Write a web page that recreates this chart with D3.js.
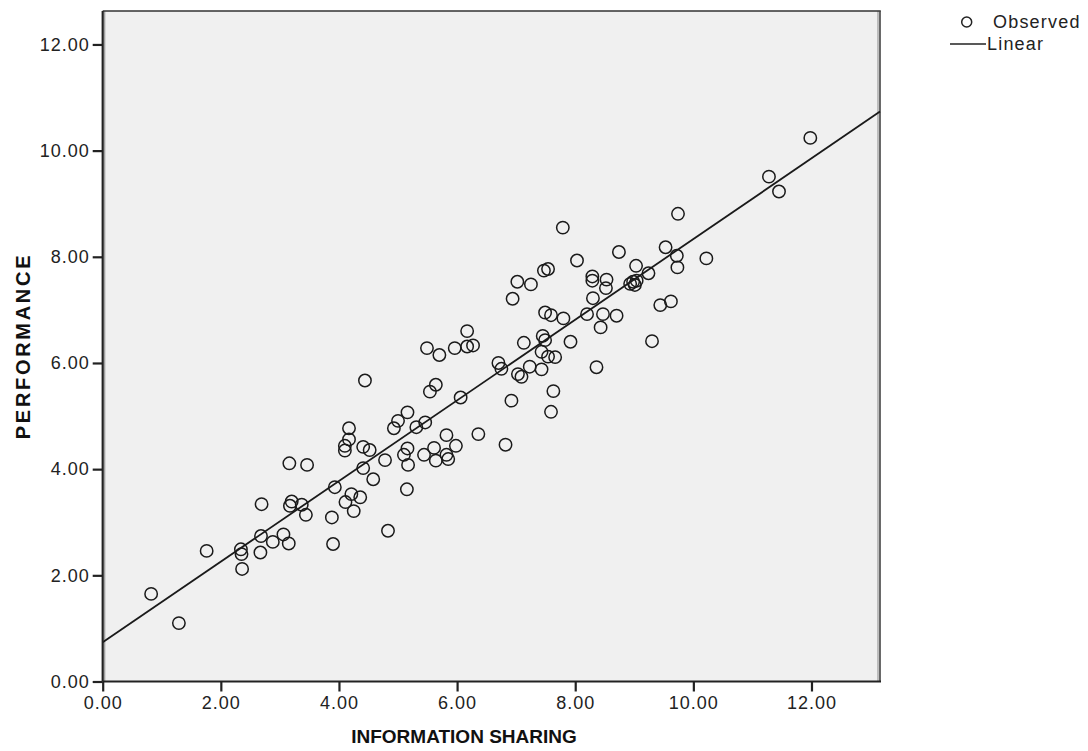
<!DOCTYPE html>
<html><head><meta charset="utf-8">
<script src="https://cdn.jsdelivr.net/npm/d3@7"></script>
<style>
html,body{margin:0;padding:0;background:#fff;}
svg{display:block;font-family:"Liberation Sans",Arial,sans-serif;}
</style></head>
<body>
<svg id="chart" width="1088" height="751"></svg>
<script>
// INFORMATION SHARING (x) values
const infoSharing = [
 0.82,1.29,1.76,2.34,2.35,2.36,2.68,2.67,2.88,3.06,3.15,3.90,4.83,2.69,3.20,3.17,3.37,3.44,3.88,3.93,
 4.21,4.36,4.11,4.25,3.16,3.46,4.41,4.58,4.78,4.17,4.17,4.10,4.10,4.41,4.52,4.44,5.16,5.00,4.93,5.31,
 5.46,5.16,5.10,5.17,5.15,5.44,5.61,5.64,5.82,5.82,5.85,5.98,6.36,6.82,5.49,5.70,5.96,6.17,6.27,6.17,
 5.64,5.54,6.06,6.70,6.75,6.92,7.59,7.63,7.03,7.09,7.23,7.43,7.43,7.54,7.66,7.13,7.45,7.49,7.92,8.36,
 9.30,8.43,8.20,8.47,8.70,7.49,7.59,7.80,9.44,9.62,6.94,8.30,7.02,7.25,7.47,7.54,7.79,8.03,8.29,8.29,
 8.53,8.52,8.74,9.03,9.24,8.93,8.98,9.01,9.04,9.53,9.72,9.73,9.74,10.22,11.28,11.45,11.98
];
// PERFORMANCE (y) values
const performance = [
 1.65,1.10,2.46,2.49,2.40,2.12,2.74,2.43,2.63,2.77,2.60,2.59,2.84,3.34,3.39,3.31,3.33,3.14,3.09,3.66,
 3.53,3.47,3.38,3.21,4.11,4.08,4.02,3.81,4.17,4.77,4.56,4.44,4.35,4.42,4.36,5.67,5.07,4.91,4.77,4.79,
 4.88,4.39,4.27,4.08,3.62,4.27,4.40,4.16,4.64,4.27,4.19,4.44,4.66,4.46,6.28,6.15,6.28,6.31,6.33,6.60,
 5.59,5.46,5.35,6.00,5.89,5.29,5.08,5.47,5.79,5.74,5.93,5.88,6.21,6.12,6.11,6.38,6.51,6.43,6.40,5.92,
 6.41,6.67,6.92,6.92,6.89,6.95,6.90,6.84,7.09,7.16,7.21,7.22,7.53,7.48,7.74,7.77,8.55,7.93,7.63,7.55,
 7.57,7.41,8.09,7.83,7.69,7.49,7.53,7.47,7.55,8.18,8.02,7.80,8.81,7.97,9.51,9.23,10.24
];
const xTicks = [0,2,4,6,8,10,12];
const yTicks = [0,2,4,6,8,10,12];
const xDomain = [0, 13.16];
const yDomain = [0, 12.63];
const xTitle = "INFORMATION SHARING";
const yTitle = "PERFORMANCE";
const legendLabels = ["Observed","Linear"];

const svg = d3.select("#chart");
const L = 102.7, R = 880, T = 11, B = 681.5;
const x = d3.scaleLinear().domain(xDomain).range([L, R]);
const y = d3.scaleLinear().domain(yDomain).range([B, T]);

// plot background
svg.append("rect").attr("x", L).attr("y", T).attr("width", R - L).attr("height", B - T)
  .attr("fill", "#f0f0f0");
// inner shading lines (3D frame look)
svg.append("line").attr("x1", L + 2).attr("x2", L + 2).attr("y1", T).attr("y2", B)
  .attr("stroke", "#9a9a9a").attr("stroke-width", 1.2);
svg.append("line").attr("x1", R - 2).attr("x2", R - 2).attr("y1", T).attr("y2", B)
  .attr("stroke", "#9a9a9a").attr("stroke-width", 1.2);
// frame
svg.append("line").attr("x1", L).attr("x2", R + 0.8).attr("y1", T).attr("y2", T)
  .attr("stroke", "#333").attr("stroke-width", 1.6);
svg.append("line").attr("x1", R).attr("x2", R).attr("y1", T).attr("y2", B)
  .attr("stroke", "#444").attr("stroke-width", 1.6);

// regression line computed from the data
const n = infoSharing.length;
const mx = d3.mean(infoSharing), my = d3.mean(performance);
let sxy = 0, sxx = 0;
for (let i = 0; i < n; i++) { sxy += (infoSharing[i]-mx)*(performance[i]-my); sxx += (infoSharing[i]-mx)**2; }
const slope = sxy / sxx, intercept = my - slope * mx;

// points
const pts = infoSharing.map((v, i) => ({x: v, y: performance[i]}));
svg.append("g").selectAll("circle").data(pts).join("circle")
  .attr("cx", d => x(d.x)).attr("cy", d => y(d.y)).attr("r", 6.2)
  .attr("fill", "none").attr("stroke", "#1a1a1a").attr("stroke-width", 1.5);

svg.append("line")
  .attr("x1", x(xDomain[0])).attr("y1", y(intercept + slope * xDomain[0]))
  .attr("x2", x(xDomain[1])).attr("y2", y(intercept + slope * xDomain[1]))
  .attr("stroke", "#1a1a1a").attr("stroke-width", 1.8);

// axes
const fmt = d3.format(".2f");
const xAxis = svg.append("g").attr("transform", `translate(0,${B})`)
  .call(d3.axisBottom(x).tickValues(xTicks).tickFormat(fmt).tickSize(10).tickSizeOuter(0));
const yAxis = svg.append("g").attr("transform", `translate(${L},0)`)
  .call(d3.axisLeft(y).tickValues(yTicks).tickFormat(fmt).tickSize(10).tickSizeOuter(0));
[xAxis, yAxis].forEach(a => {
  a.select(".domain").attr("stroke", "#222").attr("stroke-width", 2.2);
  a.selectAll(".tick line").attr("stroke", "#222").attr("stroke-width", 2.2);
  a.selectAll(".tick text").attr("fill", "#222").attr("font-size", 18)
    .attr("letter-spacing", 1).attr("font-family", "Liberation Sans, Arial, sans-serif");
});
xAxis.select(".domain").attr("d", `M${L},0H${R + 1}`);
yAxis.select(".domain").attr("d", `M0,${B}V${T}`);
xAxis.selectAll(".tick text").attr("dy", "0.71em").attr("y", 15);
yAxis.selectAll(".tick text").attr("x", -13);

// axis titles
svg.append("text").attr("x", 464).attr("y", 743)
  .attr("text-anchor", "middle").attr("font-weight", "bold").attr("font-size", 19)
  .attr("fill", "#111").text(xTitle);
svg.append("text").attr("transform", `translate(30,346) rotate(-90)`)
  .attr("text-anchor", "middle").attr("font-weight", "bold").attr("font-size", 20)
  .attr("letter-spacing", 2.7).attr("fill", "#111").text(yTitle);

// legend
const lg = svg.append("g");
lg.append("circle").attr("cx", 966.7).attr("cy", 22).attr("r", 5)
  .attr("fill", "none").attr("stroke", "#222").attr("stroke-width", 1.5);
lg.append("text").attr("x", 993).attr("y", 28).attr("font-size", 18).attr("letter-spacing", 1.2)
  .attr("fill", "#222").text(legendLabels[0]);
lg.append("line").attr("x1", 950).attr("x2", 986).attr("y1", 44).attr("y2", 44)
  .attr("stroke", "#222").attr("stroke-width", 1.6);
lg.append("text").attr("x", 987).attr("y", 50).attr("font-size", 18).attr("letter-spacing", 1.2)
  .attr("fill", "#222").text(legendLabels[1]);
</script>
</body></html>
